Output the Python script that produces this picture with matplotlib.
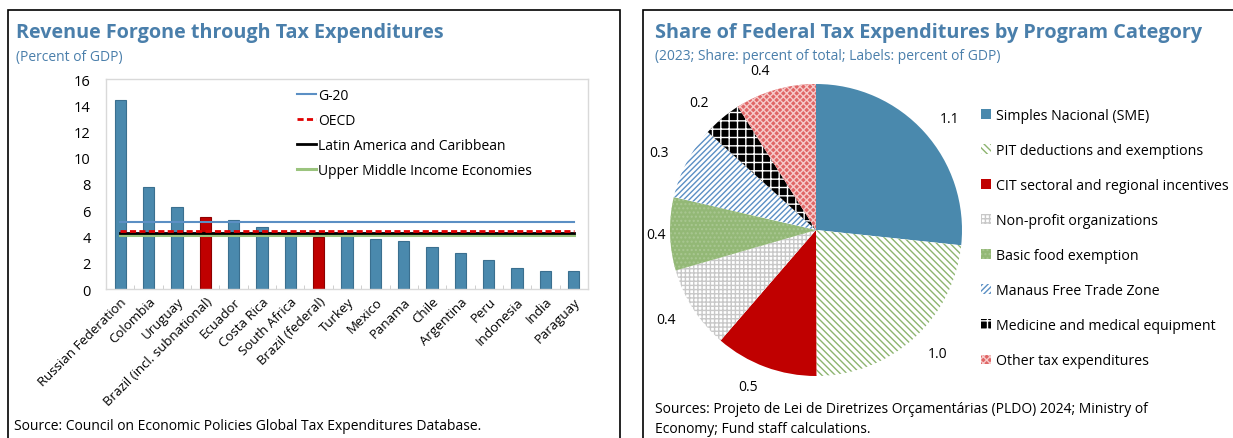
import matplotlib
matplotlib.use("Agg")
import matplotlib.pyplot as plt
from matplotlib.patches import Rectangle, Patch

plt.rcParams['font.family'] = ['Open Sans', 'DejaVu Sans']
plt.rcParams['hatch.linewidth'] = 1.0

# ---- data: left chart
countries = ["Russian Federation", "Colombia", "Uruguay", "Brazil (incl. subnational)",
             "Ecuador", "Costa Rica", "South Africa", "Brazil (federal)", "Turkey",
             "Mexico", "Panama", "Chile", "Argentina", "Peru", "Indonesia", "India", "Paraguay"]
revenue = [14.4, 7.75, 6.27, 5.5, 5.25, 4.7, 4.15, 4.0, 4.1, 3.8, 3.65, 3.2, 2.75, 2.22, 1.6, 1.4, 1.4]
highlight = ["Brazil (incl. subnational)", "Brazil (federal)"]
avg_names = ["G-20", "OECD", "Latin America and Caribbean", "Upper Middle Income Economies"]
avg_values = [5.07, 4.4, 4.27, 4.14]

# ---- data: right chart
categories = ["Simples Nacional (SME)", "PIT deductions and exemptions",
              "CIT sectoral and regional incentives", "Non-profit organizations",
              "Basic food exemption", "Manaus Free Trade Zone",
              "Medicine and medical equipment", "Other tax expenditures"]
shares = [26.7, 23.3, 11.4, 9.2, 8.1, 8.1, 4.3, 9.0]
gdp_labels = ["1.1", "1.0", "0.5", "0.4", "0.4", "0.3", "0.2", "0.4"]

W, H = 1233, 439
fig = plt.figure(figsize=(W / 100, H / 100), dpi=100)

def px(x0, y0, x1, y1):
    # pixel box (top-left origin) -> figure fraction rect
    return [x0 / W, 1 - y1 / H, (x1 - x0) / W, (y1 - y0) / H]

title_c = "#4A7FAB"
blue = "#4A89AD"
red = "#C00000"

# panel borders
fig.add_artist(Rectangle((8 / W, -0.1), (620 - 8) / W, 1.1 - 11 / H, transform=fig.transFigure,
                         fill=False, lw=1.2, ec="black"))
fig.add_artist(Rectangle((643 / W, -0.1), (1260 - 643) / W, 1.1 - 11 / H, transform=fig.transFigure,
                         fill=False, lw=1.2, ec="black"))

# ---- left panel
fig.text(16 / W, 1 - 33 / H, "Revenue Forgone through Tax Expenditures", color=title_c,
         fontsize=14.2, fontweight="bold", va="center")
fig.text(16 / W, 1 - 57 / H, "(Percent of GDP)", color=title_c, fontsize=10, va="center")
fig.text(14 / W, 1 - 427 / H, "Source: Council on Economic Policies Global Tax Expenditures Database.",
         fontsize=10, va="center")

ax = fig.add_axes(px(106, 80, 588, 290))
x = list(range(len(countries)))
colors = [red if c in highlight else blue for c in countries]
edges = ["#8E0000" if c in highlight else "#3A6F8F" for c in countries]
ax.bar(x, revenue, width=0.4, color=colors, edgecolor=edges, linewidth=0.8, zorder=2)

line_styles = [dict(color="#5B8FC4", lw=1.5, ls="-"),
               dict(color="#E00000", lw=2.0, ls=(0, (2.2, 1.2))),
               dict(color="black", lw=2.0, ls="-"),
               dict(color="#9BC47E", lw=2.2, ls="-")]
handles = {}
for i in [3, 2, 1, 0]:
    h, = ax.plot([x[0], x[-1]], [avg_values[i]] * 2, zorder=3 + (3 - i), **line_styles[i])
    handles[i] = h
ax.legend([handles[i] for i in range(4)], avg_names, loc="upper left",
          bbox_to_anchor=(0.37, 1.015), frameon=False, fontsize=10,
          handlelength=1.4, handletextpad=0.1, labelspacing=0.7)

ax.set_xlim(-0.5, len(countries) - 0.5)
ax.set_ylim(0, 16)
ax.set_yticks(range(0, 17, 2))
ax.tick_params(axis="y", length=0, pad=11, labelsize=10.5)
ax.set_xticks(x)
ax.set_xticklabels(countries, rotation=45, ha="right", rotation_mode="anchor", fontsize=9.5)
ax.tick_params(axis="x", length=0, pad=4)
ax.set_xticks([i + 0.5 for i in x[:-1]], minor=True)
ax.tick_params(axis="x", which="minor", length=3, direction="in", color="#C8C8C8")
for s in ax.spines.values():
    s.set_color("#D9D9D9")
    s.set_linewidth(1.0)

# ---- right panel
fig.text(655 / W, 1 - 33 / H, "Share of Federal Tax Expenditures by Program Category", color=title_c,
         fontsize=14.3, fontweight="bold", va="center")
fig.text(655 / W, 1 - 57 / H, "(2023; Share: percent of total; Labels: percent of GDP)", color=title_c,
         fontsize=10, va="center")
fig.text(655 / W, 1 - 410 / H, "Sources: Projeto de Lei de Diretrizes Orçamentárias (PLDO) 2024; Ministry of",
         fontsize=10, va="center")
fig.text(655 / W, 1 - 430 / H, "Economy; Fund staff calculations.", fontsize=10, va="center")

styles = [dict(fc=blue, ec=blue, hatch=None),
          dict(fc="white", ec="#8DB46F", hatch="\\\\\\\\\\"),
          dict(fc=red, ec=red, hatch=None),
          dict(fc="white", ec="#C8C8C8", hatch="++++"),
          dict(fc="#93B876", ec="#A9C792", hatch="...."),
          dict(fc="white", ec="#5B8FC4", hatch="//////"),
          dict(fc="black", ec="white", hatch="++"),
          dict(fc="#E06666", ec="#F6CACA", hatch="xxxxx")]

pax = fig.add_axes(px(670, 85, 962, 377))
wedges, texts = pax.pie(shares, labels=gdp_labels, startangle=90, counterclock=False,
                        labeldistance=1.14, textprops=dict(fontsize=10))
for w, st in zip(wedges, styles):
    w.set_facecolor(st["fc"])
    w.set_edgecolor(st["ec"])
    w.set_linewidth(0)
    if st["hatch"]:
        w.set_hatch(st["hatch"])
# basic food label sits closer to the pie in the reference
tx, ty = texts[4].get_position()
texts[4].set_position((tx * 1.03 / 1.14, ty * 1.03 / 1.14))
pax.set_xlim(-1, 1)
pax.set_ylim(-1, 1)

leg_handles = [Patch(facecolor=st["fc"], edgecolor=st["ec"], hatch=st["hatch"], linewidth=0)
               for st in styles]
fig.legend(leg_handles, categories, loc="upper left", bbox_to_anchor=(975 / W, 1 - 103 / H),
           frameon=False, fontsize=10.2, handlelength=0.7, handleheight=0.7,
           handletextpad=0.35, labelspacing=1.42, borderaxespad=0)

fig.savefig("out.png", dpi=100)
